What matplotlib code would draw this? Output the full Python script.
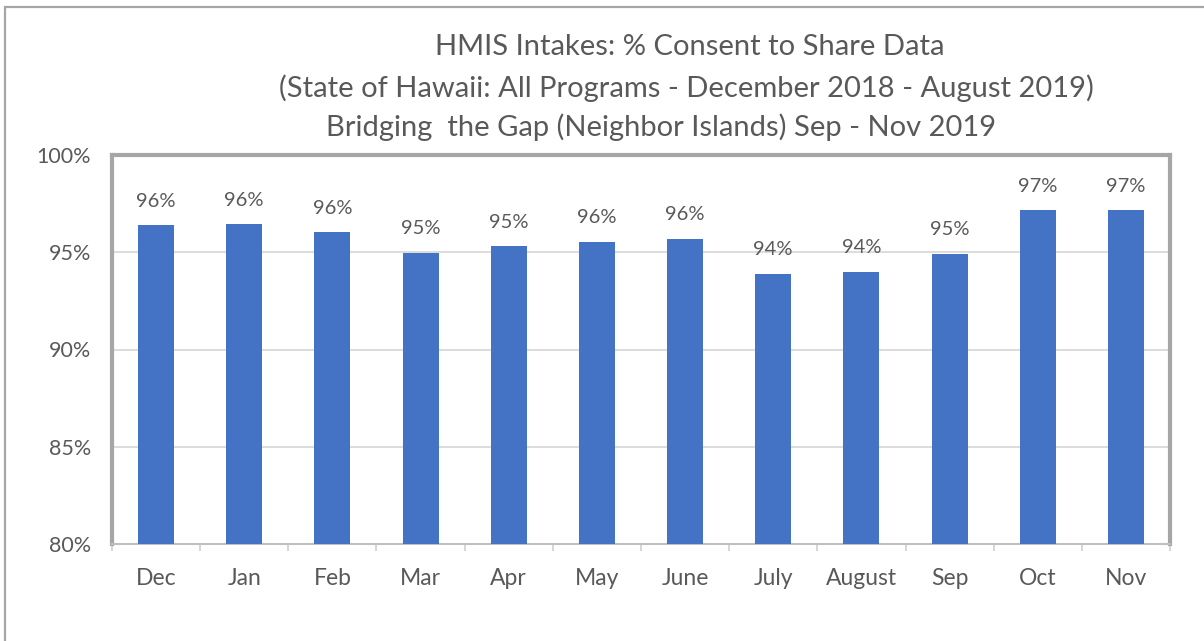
#!/usr/bin/env python
# bar chart: % consent to share data by month
import numpy as np
import matplotlib.pyplot as plt
from matplotlib.patches import Rectangle
from matplotlib.ticker import FuncFormatter

months = ['Dec', 'Jan', 'Feb', 'Mar', 'Apr', 'May', 'June', 'July',
          'August', 'Sep', 'Oct', 'Nov']
consent = [96.4, 96.45, 96.05, 94.98, 95.33, 95.54, 95.7, 93.9,
           94.0, 94.93, 97.18, 97.18]
labels = ['96%', '96%', '96%', '95%', '95%', '96%', '96%', '94%',
          '94%', '95%', '97%', '97%']

plt.rcParams['font.family'] = ['Lato', 'DejaVu Sans']
txt = '#595959'

fig = plt.figure(figsize=(12.04, 6.41), dpi=100)
ax = fig.add_axes([112/1204, 1 - 544/641, (1170 - 112)/1204, (544 - 155)/641])

ind = np.arange(len(months))
bars = ax.bar(ind, consent, 0.41, color='#4472c4', zorder=3)

ax.set_ylim(80, 100)
ax.set_xlim(-0.5, len(months) - 0.5)
ax.set_yticks(np.arange(80, 101, 5))
ax.yaxis.set_major_formatter(FuncFormatter(lambda v, p: '%d%%' % v))
ax.grid(axis='y', color='#d9d9d9', linewidth=1.3, zorder=0)

ax.set_xticks(ind)
ax.set_xticklabels(months)
ax.set_xticks(np.arange(-0.5, len(months), 1), minor=True)
ax.tick_params(axis='x', which='major', length=0, pad=17, labelsize=16.5, labelcolor=txt)
ax.tick_params(axis='x', which='minor', length=5, width=1.2, color='#d0d0d0')
ax.tick_params(axis='y', length=0, pad=15, labelsize=15.5, labelcolor=txt)

for s in ['left', 'top', 'right']:
    ax.spines[s].set_color('#a6a6a6')
    ax.spines[s].set_linewidth(3)
ax.spines['bottom'].set_color('#bfbfbf')
ax.spines['bottom'].set_linewidth(1.5)

for b, lab in zip(bars, labels):
    ax.annotate(lab, (b.get_x() + b.get_width()/2, b.get_height()),
                xytext=(0, 11), textcoords='offset points',
                ha='center', va='bottom', fontsize=14.5, color=txt)

fig.text(690/1204, 1 - 47/641, 'HMIS Intakes: % Consent to Share Data', ha='center', va='center',
         fontsize=21, color=txt)
fig.text(686/1204, 1 - 88/641, '(State of Hawaii: All Programs - December 2018 - August 2019)',
         ha='center', va='center', fontsize=21, color=txt)
fig.text(661/1204, 1 - 127/641, 'Bridging  the Gap (Neighbor Islands) Sep - Nov 2019',
         ha='center', va='center', fontsize=21, color=txt)

fig.patches.append(Rectangle((5/1204, -0.1), 1.2, 1 - 7/641 + 0.1, transform=fig.transFigure,
                             fill=False, edgecolor='#a6a6a6', linewidth=1.6))

plt.savefig('out.png', dpi=100)
